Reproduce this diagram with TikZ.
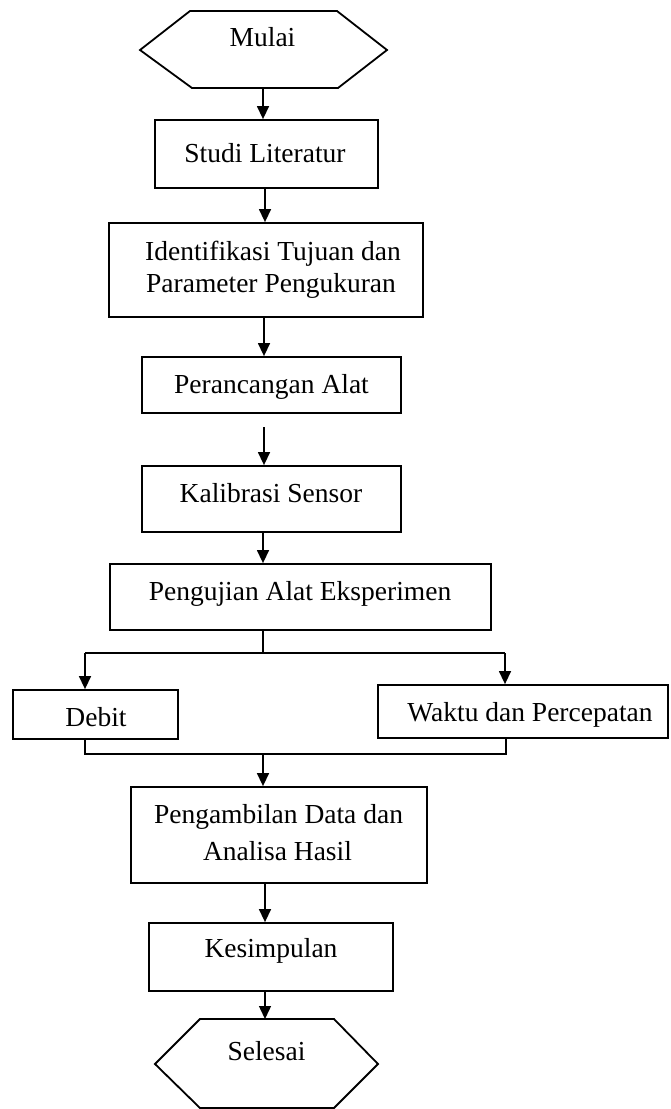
\documentclass[tikz,border=0pt]{standalone}
\usepackage{fontspec}
\setmainfont{Liberation Serif}
\usetikzlibrary{arrows.meta}
\begin{document}
\begin{tikzpicture}[x=1pt,y=-1pt,
  box/.style={draw, line width=1.8pt, inner sep=0pt},
  txt/.style={anchor=base, inner sep=0pt, font=\fontsize{27.5}{34}\selectfont},
  ln/.style={line width=1.4pt},
  arr/.style={line width=1.4pt, -{Triangle[length=13pt,width=12pt]}}]
\useasboundingbox (0,0) rectangle (670,1109);

% start hexagon
\draw[line width=1.8pt] (190,11) -- (337,11) -- (387,50) -- (338,88) -- (192,88) -- (140,50) -- cycle;
\coordinate (mulaiB) at (263,88);
\node[txt] (tmulai) at (262.5,46) {Mulai};

% boxes
\node[box, minimum width=223pt, minimum height=68pt] (studi) at (266.5,154) {};
\node[txt] (tstudi) at (265,162) {Studi Literatur};

\node[box, minimum width=314pt, minimum height=94pt] (ident) at (266,270) {};
\node[txt] (tident1) at (273,260) {Identifikasi Tujuan dan};
\node[txt] (tident2) at (271,292) {Parameter Pengukuran};

\node[box, minimum width=259pt, minimum height=56pt] (peran) at (271.5,385) {};
\node[txt] (tperan) at (271.5,393) {Perancangan Alat};

\node[box, minimum width=259pt, minimum height=66pt] (kalib) at (271.5,499) {};
\node[txt] (tkalib) at (271,502) {Kalibrasi Sensor};

\node[box, minimum width=381pt, minimum height=66pt] (penguj) at (300.5,597) {};
\node[txt] (tpenguj) at (300,600) {Pengujian Alat Eksperimen};

\node[box, minimum width=165pt, minimum height=49pt] (debit) at (95.5,714.5) {};
\node[txt] (tdebit) at (96,726) {Debit};

\node[box, minimum width=290pt, minimum height=53pt] (waktu) at (523,711.5) {};
\node[txt] (twaktu) at (530,721) {Waktu dan Percepatan};

\node[box, minimum width=296pt, minimum height=96pt] (ambil) at (279,835) {};
\node[txt] (tambil1) at (278.5,823) {Pengambilan Data dan};
\node[txt] (tambil2) at (277.5,860) {Analisa Hasil};

\node[box, minimum width=244pt, minimum height=68pt] (kesim) at (271,957) {};
\node[txt] (tkesim) at (271,957) {Kesimpulan};

% end hexagon
\draw[line width=1.8pt] (200,1019) -- (334,1019) -- (378,1064) -- (334,1108) -- (200,1108) -- (155,1064) -- cycle;
\coordinate (selesaiT) at (265,1019);
\node[txt] (tselesai) at (266.5,1060) {Selesai};

% connectors
\draw[arr] (mulaiB) -- (mulaiB |- studi.north);
\draw[arr] ([xshift=-1.5pt]studi.south) -- ([xshift=-1.5pt]studi.south |- ident.north);
\draw[arr] ([xshift=-2pt]ident.south) -- ([xshift=-2pt]ident.south |- peran.north);
\coordinate (gapstart) at (264,427);
\draw[arr] (gapstart) -- (gapstart |- kalib.north);
\draw[arr] ([xshift=-8.5pt]kalib.south) -- ([xshift=-8.5pt]kalib.south |- penguj.north);

% split
\coordinate (splitC) at (263,653);
\coordinate (splitL) at (85,653);
\coordinate (splitR) at (505,653);
\draw[ln] (splitC |- penguj.south) -- (splitC);
\draw[ln] (splitL) -- (splitR);
\draw[arr] (splitL) -- (splitL |- debit.north);
\draw[arr] (splitR) -- (splitR |- waktu.north);

% merge
\coordinate (mergeL) at (85,754);
\coordinate (mergeR) at (506,754);
\coordinate (mergeC) at (263,754);
\draw[ln] (mergeL |- debit.south) -- (mergeL) -- (mergeR) -- (mergeR |- waktu.south);
\draw[arr] (mergeC) -- (mergeC |- ambil.north);

\draw[arr] ([xshift=-14pt]ambil.south) -- ([xshift=-14pt]ambil.south |- kesim.north);
\draw[arr] ([xshift=-6pt]kesim.south) -- (selesaiT);
\end{tikzpicture}
\end{document}
